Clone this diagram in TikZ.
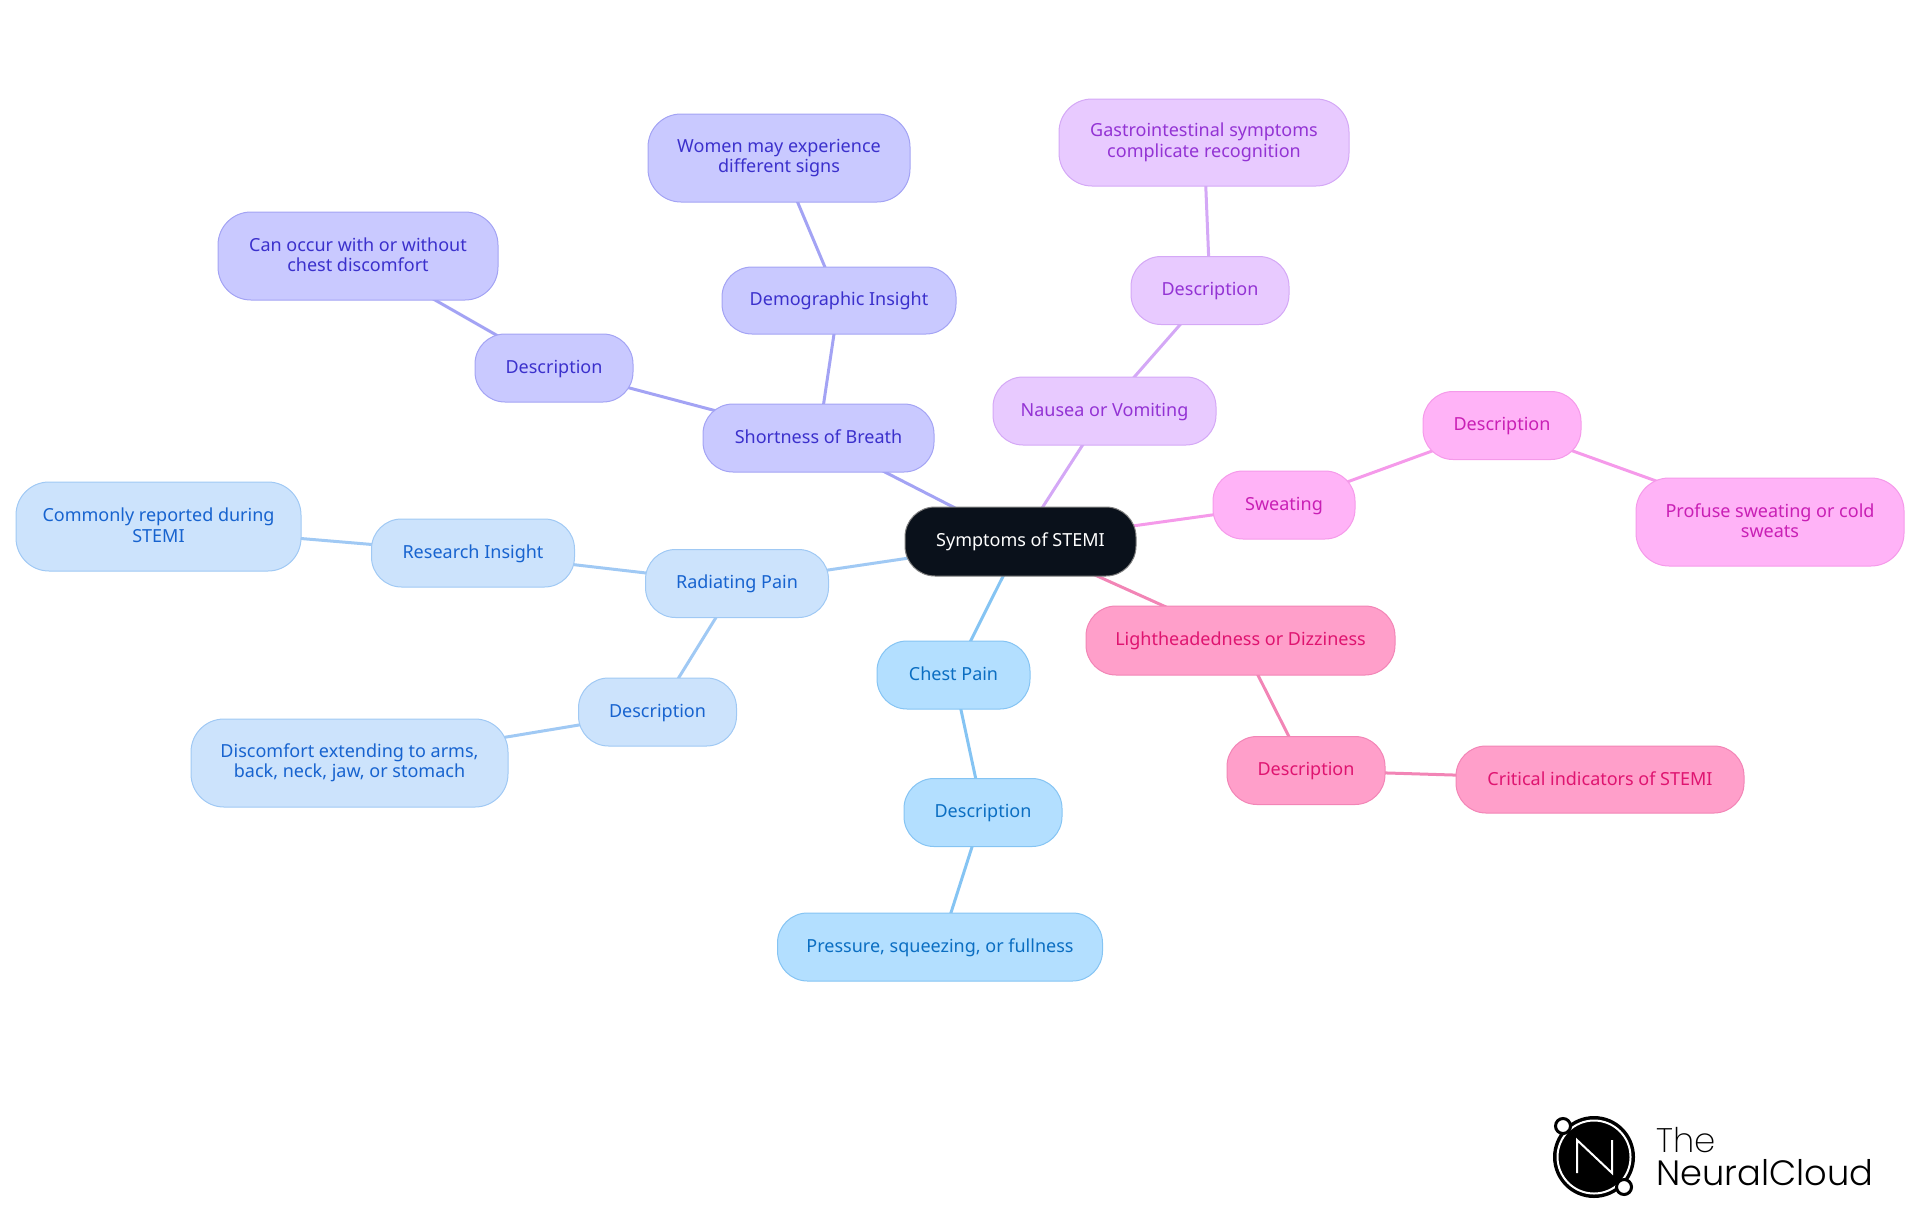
\documentclass[tikz,border=0pt]{standalone}
\usepackage{fontspec}
\setmainfont{Noto Sans}
\newfontfamily\logoL{Poppins ExtraLight}
\newfontfamily\logoR{Poppins Light}
\usetikzlibrary{backgrounds}
\definecolor{rootfill}{HTML}{0A111B}
\definecolor{cf}{HTML}{B3DFFF}\definecolor{cs}{HTML}{85C4F3}\definecolor{ct}{HTML}{0B6EC2}
\definecolor{rf}{HTML}{CCE3FC}\definecolor{rs}{HTML}{A0C9F4}\definecolor{rt}{HTML}{1763CF}
\definecolor{bf}{HTML}{C9C9FF}\definecolor{bs}{HTML}{A3A3F4}\definecolor{bt}{HTML}{3B30CC}
\definecolor{nf}{HTML}{E8CAFF}\definecolor{ns}{HTML}{D4A8F6}\definecolor{nt}{HTML}{9333D4}
\definecolor{sf}{HTML}{FFB3F7}\definecolor{ss}{HTML}{F59AEA}\definecolor{st}{HTML}{C91FB5}
\definecolor{lf}{HTML}{FF9FCA}\definecolor{ls}{HTML}{F285B6}\definecolor{lt}{HTML}{DF1470}
\newcommand{\lineprop}{\rule[-1.5pt]{0pt}{8.7pt}}
\newcommand{\rootprop}{\rule[-2.1pt]{0pt}{8.1pt}}
\tikzset{
  box/.style={rectangle,rounded corners=15pt,inner sep=0pt,line width=0.5pt,align=center,
    font=\fontsize{9}{10.2}\selectfont},
  fam/.style={box,fill=#1f,draw=#1s,text=#1t,
    execute at begin node=\lineprop,execute at end node=\lineprop},
  rootbox/.style={box,fill=rootfill,draw=gray,text=white,
    execute at begin node=\rootprop,execute at end node=\rootprop},
  sz/.style n args={2}{minimum width=#1*0.5pt,minimum height=#2*0.5pt},
  small/.style={sz={158}{68}},
  tall/.style={rounded corners=16.5pt},
  link/.style={line width=1.5pt,draw=#1s},
}
\begin{document}
\begin{tikzpicture}[x=0.5pt,y=-0.5pt]
\useasboundingbox (0,0) rectangle (1920,1215);
\node[rootbox,sz={231}{69}] (root) at (1020.5,541.5) {Symptoms of STEMI};
% chest
\node[fam=c,sz={153}{68}] (chest) at (953.5,675) {Chest Pain};
\node[fam=c,small] (chestd) at (983,812.5) {Description};
\node[fam=c,sz={325}{68}] (chestp) at (940,947) {Pressure, squeezing, or fullness};
% radiating
\node[fam=r,sz={183}{68}] (rad) at (737,583.5) {Radiating Pain};
\node[fam=r,sz={203}{68}] (radi) at (473,553) {Research Insight};
\node[fam=r,tall,sz={285}{89}] (radc) at (158.5,526.5) {Commonly reported during\\STEMI};
\node[fam=r,small] (radd) at (657.5,712) {Description};
\node[fam=r,tall,sz={317}{88}] (radx) at (349.5,763) {Discomfort extending to arms,\\back, neck, jaw, or stomach};
% breath
\node[fam=b,sz={231}{68}] (sob) at (818.5,438) {Shortness of Breath};
\node[fam=b,small] (sobd) at (554,368) {Description};
\node[fam=b,tall,sz={280}{88}] (sobc) at (358,256) {Can occur with or without\\chest discomfort};
\node[fam=b,sz={234}{67}] (sobi) at (839,300.5) {Demographic Insight};
\node[fam=b,tall,sz={262}{88}] (sobw) at (779,158) {Women may experience\\different signs};
% nausea
\node[fam=n,sz={223}{68}] (nau) at (1104.5,411) {Nausea or Vomiting};
\node[fam=n,small] (naud) at (1210,290.5) {Description};
\node[fam=n,tall,sz={290}{87}] (naug) at (1204,142.5) {Gastrointestinal symptoms\\complicate recognition};
% sweating
\node[fam=s,sz={142}{68}] (swe) at (1284,505) {Sweating};
\node[fam=s,small] (swed) at (1502,425.5) {Description};
\node[fam=s,tall,sz={268}{88}] (swep) at (1770,522) {Profuse sweating or cold\\sweats};
% light
\node[fam=l,sz={309}{69}] (lig) at (1240.5,640.5) {Lightheadedness or Dizziness};
\node[fam=l,small] (ligd) at (1306,770.5) {Description};
\node[fam=l,sz={288}{67}] (ligc) at (1600,779.5) {Critical indicators of STEMI};
\begin{scope}[on background layer]
\foreach \a/\b/\c in {root/chest/c,chest/chestd/c,chestd/chestp/c,
  root/rad/r,rad/radi/r,radi/radc/r,rad/radd/r,radd/radx/r,
  root/sob/b,sob/sobd/b,sobd/sobc/b,sob/sobi/b,sobi/sobw/b,
  root/nau/n,nau/naud/n,naud/naug/n,
  root/swe/s,swe/swed/s,swed/swep/s,
  root/lig/l,lig/ligd/l,ligd/ligc/l}
  \draw[link=\c] (\a.center) -- (\b.center);
\end{scope}
% logo
\fill[black] (1594,1157) circle[radius=41];
\draw[white,line width=1pt] (1594,1157) circle[radius=36.5];
\draw[white,line width=1pt,line join=miter] (1577,1173) -- (1577,1140) -- (1612,1173) -- (1612,1140);
\filldraw[fill=white,draw=black,line width=1.5pt] (1563,1126) circle[radius=7.5];
\filldraw[fill=white,draw=black,line width=1.5pt] (1624,1187) circle[radius=7.5];
\node[anchor=base west,inner sep=0pt,font=\logoL\fontsize{17}{17}\selectfont] (the) at (1656,1152) {The};
\node[anchor=base west,inner sep=0pt,font=\logoR\fontsize{17.6}{17.6}\selectfont] (neu) at (1656,1185) {NeuralCloud};
\end{tikzpicture}
\end{document}
